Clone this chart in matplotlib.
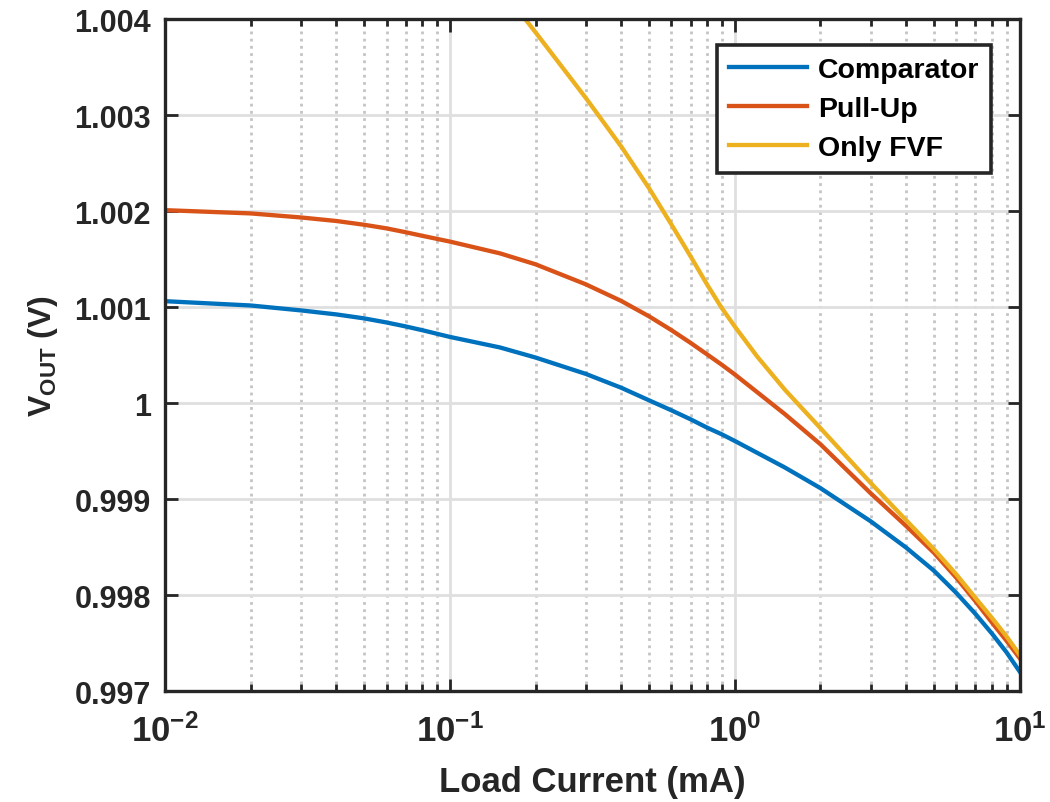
import matplotlib
matplotlib.use("Agg")
import matplotlib.pyplot as plt

# values (load current in mA, VOUT in V)
i_comp = [0.01, 0.02, 0.03, 0.04, 0.05, 0.06, 0.07, 0.08, 0.1, 0.15, 0.2, 0.3,
          0.4, 0.5, 0.6, 0.7, 0.8, 0.9, 1.0, 1.5, 2.0, 3.0, 4.0, 5.0, 6.0, 7.0,
          8.0, 9.0, 10.0]
v_comp = [1.001062, 1.001017, 1.000966, 1.000924, 1.000883, 1.00084, 1.000799,
          1.00076, 1.00069, 1.00058, 1.000475, 1.000305, 1.00016, 1.00003,
          0.999925, 0.999832, 0.999745, 0.999676, 0.999607, 0.99933, 0.999115,
          0.99877, 0.998495, 0.998256, 0.998023, 0.997805, 0.9976, 0.997405,
          0.997206]

i_pull = [0.01, 0.02, 0.03, 0.04, 0.05, 0.06, 0.07, 0.08, 0.1, 0.15, 0.2, 0.3,
          0.4, 0.5, 0.6, 0.7, 0.8, 0.9, 1.0, 1.5, 2.0, 3.0, 4.0, 5.0, 6.0, 7.0,
          8.0, 9.0, 10.0]
v_pull = [1.00201, 1.001976, 1.001934, 1.001897, 1.001858, 1.00182, 1.00178,
          1.001743, 1.001683, 1.00156, 1.001446, 1.001238, 1.001064, 1.000905,
          1.00076, 1.000628, 1.000508, 1.000401, 1.0003, 0.999886, 0.999572,
          0.999062, 0.99872, 0.998443, 0.998181, 0.997937, 0.997715, 0.997525,
          0.997345]

i_fvf = [0.184, 0.2, 0.3, 0.4, 0.5, 0.6, 0.7, 0.8, 0.9, 1.0, 1.2, 1.5, 2.0, 3.0,
         4.0, 5.0, 6.0, 7.0, 8.0, 9.0, 10.0]
v_fvf = [1.004, 1.003862, 1.00318, 1.002672, 1.002241, 1.00186, 1.00153,
         1.001236, 1.000993, 1.0008, 1.000485, 1.00014, 0.99974, 0.99917,
         0.99878, 0.99848, 0.998216, 0.997972, 0.997763, 0.997571, 0.99738]

labels = ["Comparator", "Pull-Up", "Only FVF"]
colors = ["#0072BD", "#D95319", "#EDB120"]

yticks = [0.997, 0.998, 0.999, 1.0, 1.001, 1.002, 1.003, 1.004]
ytick_labels = ["0.997", "0.998", "0.999", "1", "1.001", "1.002", "1.003", "1.004"]
xticks = [0.01, 0.1, 1, 10]
xtick_labels = [r"$\mathbf{10^{-2}}$", r"$\mathbf{10^{-1}}$", r"$\mathbf{10^{0}}$",
                r"$\mathbf{10^{1}}$"]

plt.rcParams["font.family"] = ["Liberation Sans", "DejaVu Sans"]
plt.rcParams["mathtext.fontset"] = "custom"
plt.rcParams["mathtext.rm"] = "Liberation Sans"
plt.rcParams["mathtext.bf"] = "Liberation Sans:bold"
plt.rcParams["mathtext.it"] = "Liberation Sans:italic"

fig = plt.figure(figsize=(10.5, 8.03), dpi=100)
ax = fig.add_axes([0.157, 0.138, 0.814, 0.837])

ax.plot(i_comp, v_comp, color=colors[0], lw=3.1, label=labels[0])
ax.plot(i_pull, v_pull, color=colors[1], lw=3.1, label=labels[1])
ax.plot(i_fvf, v_fvf, color=colors[2], lw=3.1, label=labels[2])

ax.set_xscale("log")
ax.set_xlim(0.01, 10)
ax.set_ylim(0.997, 1.004)
ax.set_yticks(yticks)
ax.set_yticklabels(ytick_labels, fontsize=22, fontweight="bold", color="#262626")
ax.set_xticks(xticks)
ax.set_xticklabels(xtick_labels, fontsize=25, color="#262626")

ax.grid(True, which="major", color="#dfdfdf", lw=2.0, ls="-")
ax.grid(True, which="minor", axis="x", color="#c4c4c4", lw=2.0, ls=(0, (1, 1.6)))
ax.set_axisbelow(True)

ax.tick_params(which="both", direction="in", top=True, right=True,
               color="#262626", width=2)
ax.tick_params(which="major", length=9)
ax.tick_params(which="minor", length=5)
ax.tick_params(axis="y", pad=10)
ax.tick_params(axis="x", pad=16)
for s in ax.spines.values():
    s.set_linewidth(2.4)
    s.set_color("#262626")

ax.set_xlabel("Load Current (mA)", fontsize=25, fontweight="bold",
              color="#262626", labelpad=12)
ax.set_ylabel(r"V$_{\mathbf{OUT}}$ (V)", fontsize=23, fontweight="bold",
              color="#262626", labelpad=10)

leg = ax.legend(loc="upper right", prop={"weight": "bold", "size": 20.5},
                fancybox=False, edgecolor="#262626", framealpha=1,
                handlelength=2.75, handletextpad=0.38, borderpad=0.42,
                labelspacing=0.46, borderaxespad=0,
                bbox_to_anchor=(0.967, 0.961))
leg.get_frame().set_linewidth(2.6)

fig.savefig("out.png", dpi=100)
